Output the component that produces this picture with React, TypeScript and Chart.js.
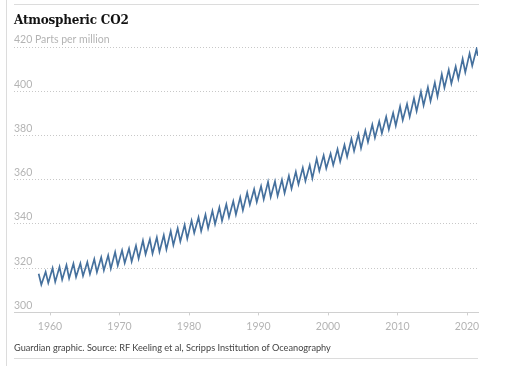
import React, { useEffect, useRef } from "react";
import { Chart, registerables } from "chart.js";

Chart.register(...registerables);

// Years of the record (Mauna Loa)
const years = [
  1958, 1959, 1960, 1961, 1962, 1963, 1964, 1965, 1966, 1967,
  1968, 1969, 1970, 1971, 1972, 1973, 1974, 1975, 1976, 1977,
  1978, 1979, 1980, 1981, 1982, 1983, 1984, 1985, 1986, 1987,
  1988, 1989, 1990, 1991, 1992, 1993, 1994, 1995, 1996, 1997,
  1998, 1999, 2000, 2001, 2002, 2003, 2004, 2005, 2006, 2007,
  2008, 2009, 2010, 2011, 2012, 2013, 2014, 2015, 2016, 2017,
  2018, 2019, 2020, 2021,
];

// Seasonal maximum (around May), ppm
const mayPeaks = [
  317.5, 318.3, 320.0, 320.6, 321.4, 322.1, 322.2, 322.8, 324.1, 324.9,
  325.8, 327.3, 328.1, 328.9, 330.2, 332.5, 333.1, 333.9, 334.9, 336.8,
  338.0, 339.6, 341.5, 343.0, 344.2, 345.9, 347.5, 348.9, 350.3, 352.0,
  354.2, 355.7, 357.1, 359.0, 359.3, 360.0, 361.7, 363.6, 365.4, 366.6,
  369.5, 371.0, 371.8, 373.8, 375.7, 378.5, 380.6, 382.3, 384.9, 386.4,
  388.5, 390.2, 393.1, 394.2, 396.8, 399.8, 401.8, 403.9, 407.7, 409.7,
  411.2, 414.7, 417.1, 419.1,
];

// Seasonal minimum (around end of September), ppm
const autumnTroughs = [
  312.5, 313.3, 313.8, 314.8, 315.4, 316.0, 316.5, 317.3, 318.2, 319.0,
  319.8, 321.2, 322.3, 323.0, 324.3, 326.3, 326.6, 327.4, 328.5, 330.4,
  332.1, 333.3, 335.9, 336.7, 338.0, 339.9, 341.4, 343.0, 344.2, 346.1,
  348.7, 349.9, 351.1, 352.1, 352.7, 353.9, 355.9, 357.9, 359.4, 360.6,
  364.0, 365.1, 366.6, 368.2, 370.4, 373.0, 374.2, 377.0, 379.0, 381.0,
  382.7, 384.4, 386.9, 388.4, 391.0, 393.6, 395.5, 397.6, 401.6, 403.5,
  405.6, 408.5, 411.5,
];

// Last reading of the record (mid 2021)
const lastReading = { year: 2021.55, ppm: 416.0 };

const peakOffset = 0.37; // mid-May
const troughOffset = 0.75; // end of September

const xTicks = [1960, 1970, 1980, 1990, 2000, 2010, 2020];
const yTicks = [300, 320, 340, 360, 380, 400, 420];

const title = "Atmospheric CO2";
const unitLabel = "Parts per million";
const footer =
  "Guardian graphic. Source: RF Keeling et al, Scripps Institution of Oceanography";

const LINE_COLOR = "#45709d";
const LABEL_COLOR = "#b4b4b4";
const RULE_COLOR = "#dcdcdc";
const SANS = "Lato, 'Open Sans', sans-serif";

export default function App() {
  const canvasRef = useRef<HTMLCanvasElement | null>(null);

  useEffect(() => {
    const canvas = canvasRef.current;
    if (!canvas) return;

    const points: { x: number; y: number }[] = [];
    years.forEach((yr, i) => {
      points.push({ x: yr + peakOffset, y: mayPeaks[i] });
      if (i < autumnTroughs.length) {
        points.push({ x: yr + troughOffset, y: autumnTroughs[i] });
      }
    });
    points.push({ x: lastReading.year, y: lastReading.ppm });

    const chart = new Chart(canvas, {
      type: "line",
      data: {
        datasets: [
          {
            data: points,
            borderColor: LINE_COLOR,
            borderWidth: 1.7,
            pointRadius: 0,
            tension: 0,
            fill: false,
          },
        ],
      },
      options: {
        animation: false,
        responsive: false,
        maintainAspectRatio: false,
        layout: { padding: { left: 14, right: 34, top: 47, bottom: 28 } },
        plugins: {
          legend: { display: false },
          tooltip: { enabled: false },
          title: { display: false },
        },
        scales: {
          x: {
            type: "linear",
            min: 1954.82,
            max: 2021.58,
            afterBuildTicks: (scale: any) => {
              scale.ticks = xTicks.map((v) => ({ value: v }));
            },
            grid: {
              drawOnChartArea: false,
              drawTicks: true,
              tickLength: 3,
              color: "#cfcfcf",
            },
            border: { display: true, color: "#d0d0d0", width: 1 },
            ticks: {
              color: LABEL_COLOR,
              font: { family: SANS, size: 10.5 },
              padding: 5,
              maxRotation: 0,
              autoSkip: false,
              callback: (v: any) => String(v),
            },
          },
          y: {
            type: "linear",
            min: 300,
            max: 420,
            afterBuildTicks: (scale: any) => {
              scale.ticks = yTicks.map((v) => ({ value: v }));
            },
            grid: {
              drawTicks: false,
              color: "#c8c8c8",
              lineWidth: 1,
            },
            border: { display: false, dash: [1, 2] },
            ticks: {
              mirror: true,
              padding: 0,
              labelOffset: -7,
              color: LABEL_COLOR,
              font: { family: SANS, size: 10.5 },
              callback: (v: any) =>
                Number(v) === 420 ? `420 ${unitLabel}` : String(v),
            },
          },
        },
      },
    });

    return () => chart.destroy();
  }, []);

  return (
    <div
      style={{
        position: "absolute",
        left: 0,
        top: 0,
        width: 512,
        height: 366,
        background: "#fff",
        overflow: "hidden",
      }}
    >
      <div
        style={{
          position: "absolute",
          left: 6,
          top: 0,
          width: 1,
          height: 366,
          background: RULE_COLOR,
        }}
      />
      <div
        style={{
          position: "absolute",
          left: 14,
          top: 4,
          width: 465,
          height: 1,
          background: RULE_COLOR,
        }}
      />
      <canvas
        ref={canvasRef}
        width={512}
        height={366}
        style={{ position: "absolute", left: 0, top: 0, width: 512, height: 366 }}
      />
      <div
        style={{
          position: "absolute",
          left: 14,
          top: 13,
          fontFamily: "'DejaVu Serif', serif",
          fontWeight: 700,
          fontSize: 12,
          lineHeight: "14px",
          color: "#121212",
          whiteSpace: "nowrap",
          letterSpacing: "-0.2px",
        }}
      >
        {title}
      </div>
      <div
        style={{
          position: "absolute",
          left: 14,
          top: 342,
          fontFamily: SANS,
          fontSize: 9.2,
          lineHeight: "12px",
          color: "#444",
          whiteSpace: "nowrap",
        }}
      >
        {footer}
      </div>
      <div
        style={{
          position: "absolute",
          left: 14,
          top: 358,
          width: 464,
          height: 1,
          background: RULE_COLOR,
        }}
      />
    </div>
  );
}
